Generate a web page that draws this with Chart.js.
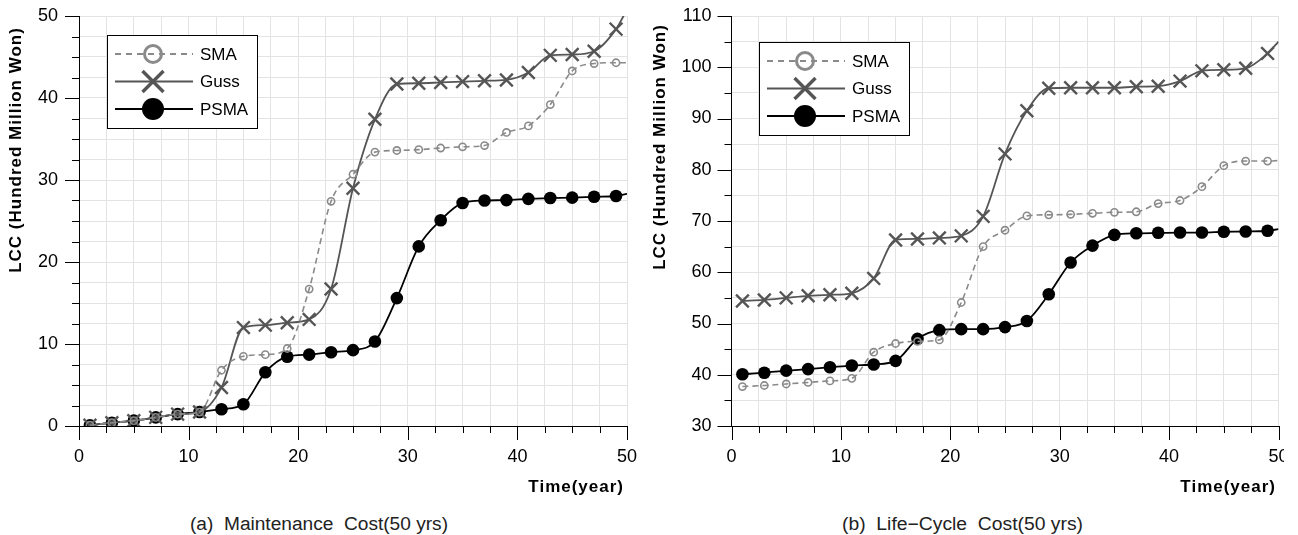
<!DOCTYPE html>
<html lang="en">

<head>
    <meta charset="UTF-8">
    <meta name="viewport" content="width=device-width, initial-scale=1.0">
    <title>LCC - Maintenance & Life-Cycle Cost</title>
    <script src="https://cdn.jsdelivr.net/npm/chart.js"></script>
    <style>
        body { margin: 0; background: #fff; width: 1298px; height: 535px; position: relative; overflow: hidden; }
        .chart-box { position: absolute; top: 0; overflow: hidden; height: 505px; }
        .caption {
            position: absolute; top: 515px; line-height: 18px; white-space: pre;
            font-family: "Liberation Sans", Arial, sans-serif; font-size: 18px; color: #222;
            transform-origin: left top;
        }
    </style>
</head>

<body>
    <div class="chart-box" style="left:0px; width:650px"><canvas id="maintenanceChart" width="650" height="505"></canvas></div>
    <!-- the original figure is cut just after the last x label -->
    <div class="chart-box" style="left:650px; width:634px"><canvas id="lifeCycleChart" width="664" height="505"></canvas></div>
    <div class="caption" id="captionA" style="left:190px">(a)  Maintenance  Cost(50 yrs)</div>
    <div class="caption" id="captionB" style="left:842px">(b)  Life−Cycle  Cost(50 yrs)</div>

    <script>
        // years (last entry = curve end at the right edge, no marker)
        const years = [1, 3, 5, 7, 9, 11, 13, 15, 17, 19, 21, 23, 25, 27, 29, 31, 33, 35, 37, 39, 41, 43, 45, 47, 49, 50];

        // (a) Maintenance cost
        const smaMaint = [0.1, 0.4, 0.65, 1.05, 1.45, 1.7, 6.8, 8.5, 8.7, 9.45, 16.7, 27.4, 30.7, 33.4, 33.6, 33.7, 33.9, 34.05, 34.2, 35.8, 36.6, 39.2, 43.3, 44.2, 44.3, 44.3];
        const gussMaint = [0.1, 0.4, 0.65, 1.05, 1.45, 1.7, 4.7, 12.0, 12.3, 12.6, 13.0, 16.7, 29.0, 37.4, 41.7, 41.8, 41.9, 42.0, 42.1, 42.2, 43.1, 45.2, 45.3, 45.7, 48.4, 50.8];
        const psmaMaint = [0.1, 0.4, 0.65, 1.05, 1.45, 1.7, 2.05, 2.65, 6.55, 8.45, 8.7, 9.0, 9.25, 10.3, 15.6, 21.9, 25.1, 27.2, 27.5, 27.55, 27.7, 27.8, 27.85, 27.95, 28.05, 28.3];

        // (b) Life-cycle cost
        const smaLife = [37.7, 37.9, 38.2, 38.5, 38.8, 39.3, 44.4, 46.1, 46.5, 46.8, 54.1, 65.0, 68.2, 71.0, 71.2, 71.3, 71.5, 71.7, 71.8, 73.4, 74.0, 76.7, 80.8, 81.7, 81.7, 81.8];
        const gussLife = [54.4, 54.6, 55.0, 55.4, 55.6, 55.9, 58.8, 66.3, 66.5, 66.7, 67.1, 70.9, 83.1, 91.5, 95.9, 96.0, 96.0, 96.0, 96.2, 96.3, 97.3, 99.3, 99.5, 99.8, 102.7, 105.0];
        const psmaLife = [40.1, 40.4, 40.8, 41.1, 41.45, 41.8, 42.0, 42.7, 47.0, 48.7, 48.9, 48.9, 49.3, 50.5, 55.7, 61.9, 65.2, 67.3, 67.6, 67.7, 67.75, 67.75, 67.9, 67.95, 68.1, 68.4];

        const seriesNames = ['SMA', 'Guss', 'PSMA'];
        const xTitle = 'Time(year)';
        const yTitle = 'LCC (Hundred Million Won)';

        const FONT = '"Liberation Sans", Arial, sans-serif';
        Chart.defaults.font.family = FONT;
        Chart.defaults.font.size = 18;
        Chart.defaults.color = '#000';

        const GRAY = '#8a8a8a';
        const DARK = '#555555';

        const lastIdx = years.length - 1;
        const toPoints = vals => years.map((x, i) => ({ x: x, y: vals[i] }));

        function buildDatasets(sma, guss, psma) {
            return [{
                label: seriesNames[0],
                data: toPoints(sma),
                order: 0,
                borderColor: GRAY,
                borderWidth: 1.6,
                borderDash: [6, 4],
                pointStyle: 'circle',
                pointRadius: c => c.dataIndex === lastIdx ? 0 : 3.6,
                pointBorderWidth: 1.6,
                pointBorderColor: GRAY,
                pointBackgroundColor: 'rgba(0,0,0,0)',
                cubicInterpolationMode: 'monotone'
            }, {
                label: seriesNames[1],
                data: toPoints(guss),
                order: 1,
                borderColor: DARK,
                borderWidth: 1.8,
                pointStyle: 'crossRot',
                pointRadius: c => c.dataIndex === lastIdx ? 0 : 9,
                pointBorderWidth: 2.4,
                pointBorderColor: DARK,
                cubicInterpolationMode: 'monotone'
            }, {
                label: seriesNames[2],
                data: toPoints(psma),
                order: 2,
                borderColor: '#000',
                borderWidth: 1.8,
                pointStyle: 'circle',
                pointRadius: c => c.dataIndex === lastIdx ? 0 : 6.3,
                pointBorderWidth: 0,
                pointBackgroundColor: '#000',
                cubicInterpolationMode: 'monotone'
            }];
        }

        // major / minor tick marks drawn outside the plot
        const tickMarks = {
            id: 'tickMarks',
            afterDraw(chart) {
                const ctx = chart.ctx;
                const xs = chart.scales.x, ys = chart.scales.y;
                ctx.save();
                ctx.strokeStyle = '#000';
                ctx.lineWidth = 1;
                xs.ticks.forEach(t => {
                    const px = Math.round(xs.getPixelForValue(t.value)) + 0.5;
                    const len = t.value % 10 === 0 ? 14 : 7;
                    ctx.beginPath(); ctx.moveTo(px, xs.top); ctx.lineTo(px, xs.top + len); ctx.stroke();
                });
                ys.ticks.forEach(t => {
                    const py = Math.round(ys.getPixelForValue(t.value)) + 0.5;
                    const len = t.value % 10 === 0 ? 14 : 7;
                    ctx.beginPath(); ctx.moveTo(ys.right, py); ctx.lineTo(ys.right - len, py); ctx.stroke();
                });
                ctx.restore();
            }
        };

        function drawMarker(ctx, style, x, y, r, color, lw) {
            ctx.beginPath();
            if (style === 'crossRot') {
                ctx.strokeStyle = color; ctx.lineWidth = lw;
                ctx.moveTo(x - r, y - r); ctx.lineTo(x + r, y + r);
                ctx.moveTo(x + r, y - r); ctx.lineTo(x - r, y + r);
                ctx.stroke();
            } else if (style === 'ring') {
                ctx.strokeStyle = color; ctx.lineWidth = lw;
                ctx.arc(x, y, r, 0, Math.PI * 2);
                ctx.stroke();
            } else {
                ctx.fillStyle = color;
                ctx.arc(x, y, r, 0, Math.PI * 2);
                ctx.fill();
            }
        }

        // axis titles + boxed legend inside the plot
        const figureText = {
            id: 'figureText',
            afterDraw(chart, args, opts) {
                const ctx = chart.ctx;
                ctx.save();
                ctx.fillStyle = '#000';
                ctx.font = 'bold 17px ' + FONT;
                ctx.letterSpacing = '1px';

                ctx.save();
                ctx.translate(opts.yTitleAt[0], opts.yTitleAt[1]);
                ctx.rotate(-Math.PI / 2);
                ctx.textAlign = 'center';
                ctx.textBaseline = 'middle';
                ctx.fillText(yTitle, 0, 0);
                ctx.restore();

                ctx.textAlign = 'right';
                ctx.textBaseline = 'alphabetic';
                ctx.fillText(xTitle, opts.xTitleAt[0], opts.xTitleAt[1]);
                ctx.letterSpacing = '0px';

                // legend
                const lx = opts.legendAt[0], ly = opts.legendAt[1];
                ctx.fillStyle = '#fff';
                ctx.fillRect(lx, ly, 150, 93);
                ctx.strokeStyle = '#000';
                ctx.lineWidth = 1;
                ctx.strokeRect(lx + 0.5, ly + 0.5, 150, 93);

                const rows = [
                    { dash: [6, 5], color: GRAY, style: 'ring', r: 8.5, lw: 3 },
                    { dash: [], color: DARK, style: 'crossRot', r: 10.5, lw: 3.4 },
                    { dash: [], color: '#000', style: 'dot', r: 11, lw: 0 }
                ];
                rows.forEach((row, i) => {
                    const cy = ly + 19 + i * 27.5;
                    ctx.beginPath();
                    ctx.setLineDash(row.dash);
                    ctx.strokeStyle = row.color;
                    ctx.lineWidth = 2;
                    ctx.moveTo(lx + 8, cy); ctx.lineTo(lx + 86, cy);
                    ctx.stroke();
                    ctx.setLineDash([]);
                    drawMarker(ctx, row.style, lx + 46, cy, row.r, row.color, row.lw);
                    ctx.fillStyle = '#000';
                    ctx.font = '17px ' + FONT;
                    ctx.textAlign = 'left';
                    ctx.textBaseline = 'middle';
                    ctx.fillText(seriesNames[i], lx + 93, cy + 1);
                });
                ctx.restore();
            }
        };

        function makeChart(id, datasets, yMin, yMax, yStep, geo) {
            const ctx = document.getElementById(id).getContext('2d');
            const canvasH = ctx.canvas.height;
            return new Chart(ctx, {
                type: 'line',
                data: { datasets: datasets },
                options: {
                    responsive: false,
                    animation: false,
                    events: [],
                    layout: { padding: { top: 16, right: geo.padRight, left: 0, bottom: 0 } },
                    plugins: {
                        legend: { display: false },
                        tooltip: { enabled: false },
                        figureText: geo.text
                    },
                    scales: {
                        x: {
                            type: 'linear', min: 0, max: 50,
                            grid: { color: '#e3e3e3', drawTicks: false },
                            border: { color: '#000', width: 1 },
                            ticks: { stepSize: 2.5, autoSkip: false, maxRotation: 0, padding: 20, callback: v => v % 10 === 0 ? v : '' },
                            afterFit(scale) { scale.height = canvasH - 426; scale.paddingLeft = 0; scale.paddingRight = 0; }
                        },
                        y: {
                            min: yMin, max: yMax,
                            grid: { color: '#e3e3e3', drawTicks: false },
                            border: { color: '#000', width: 1 },
                            ticks: { stepSize: yStep, autoSkip: false, padding: geo.yPad, callback: v => v % 10 === 0 ? v : '' },
                            afterFit(scale) { scale.width = geo.yWidth; scale.paddingTop = 0; scale.paddingBottom = 0; }
                        }
                    }
                },
                plugins: [tickMarks, figureText]
            });
        }

        makeChart('maintenanceChart', buildDatasets(smaMaint, gussMaint, psmaMaint), 0, 50, 2.5, {
            yWidth: 79, padRight: 23, yPad: 21,
            text: { yTitleAt: [16, 150], xTitleAt: [624, 492], legendAt: [107, 35] }
        });

        makeChart('lifeCycleChart', buildDatasets(smaLife, gussLife, psmaLife), 30, 110, 5, {
            yWidth: 81.5, padRight: 35.5, yPad: 20,
            text: { yTitleAt: [10, 147], xTitleAt: [626, 492], legendAt: [109, 42] }
        });

        // squeeze captions to the narrow face of the original
        [['captionA', 258], ['captionB', 241]].forEach(([id, w]) => {
            const el = document.getElementById(id);
            el.style.transform = 'scaleX(' + (w / el.getBoundingClientRect().width) + ')';
        });
    </script>
</body>

</html>
